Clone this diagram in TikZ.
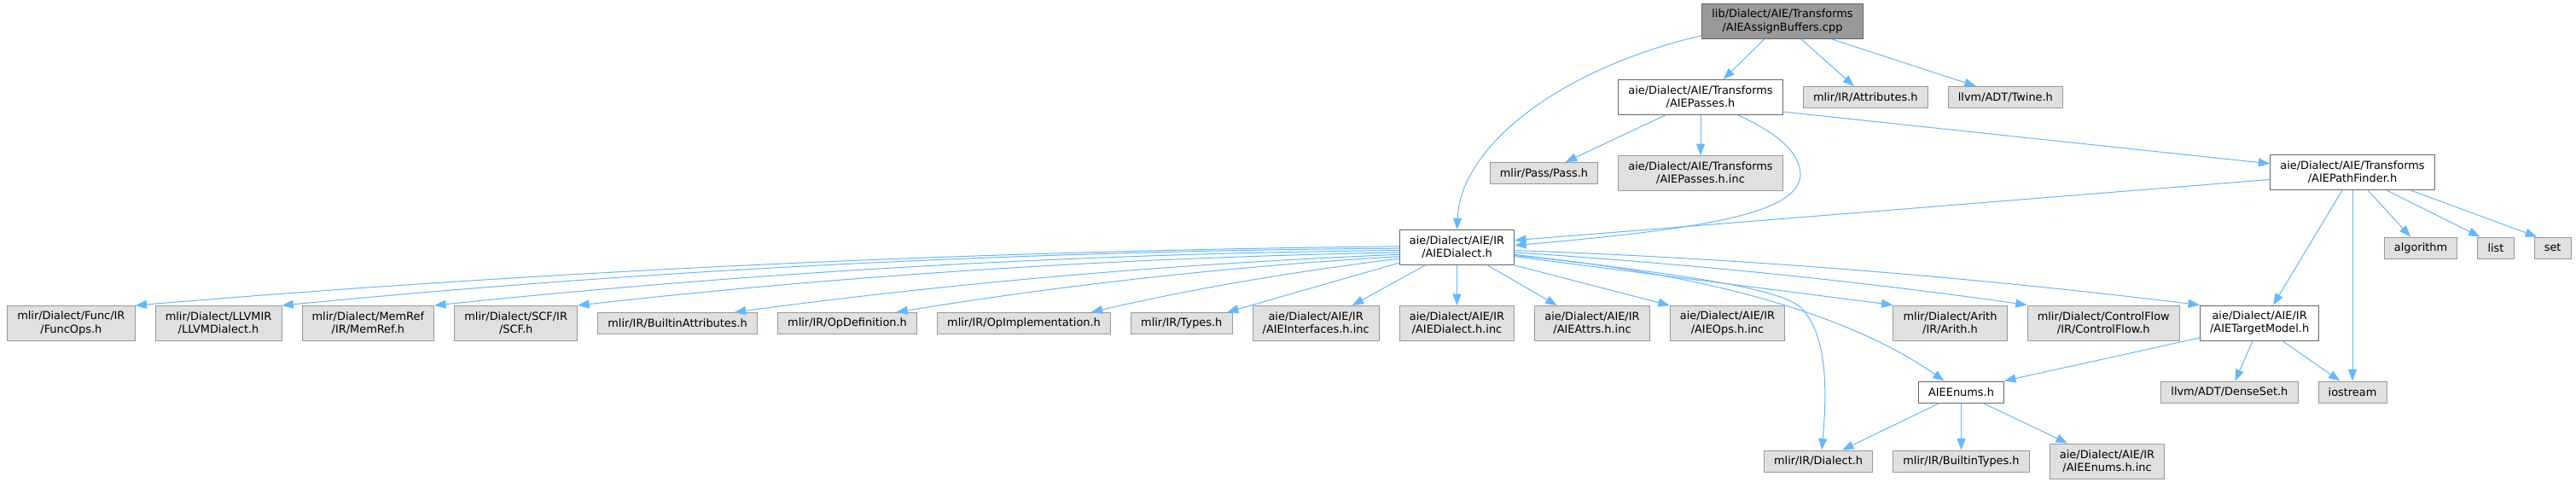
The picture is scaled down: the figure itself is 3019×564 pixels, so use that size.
\documentclass[tikz,border=0pt]{standalone}
\usepackage{fontspec}
\setmainfont{DejaVu Sans}
\usepackage{xcolor}
\usepackage{tikz}
\usetikzlibrary{arrows.meta, positioning}

\definecolor{edgeblue}{HTML}{63B8FF}
\definecolor{leaffill}{HTML}{E0E0E0}
\definecolor{leafdraw}{HTML}{999999}
\definecolor{rootfill}{HTML}{999999}
\definecolor{rootdraw}{HTML}{666666}
\definecolor{docdraw}{HTML}{666666}
\newcommand{\graphfont}{\fontsize{9.68pt}{11.4pt}\selectfont}

\begin{document}
\begin{tikzpicture}[
  x=0.75pt, y=-0.75pt,
  node distance=35.25pt and 17.25pt,
  filebox/.style={rectangle, draw=docdraw, fill=white, line width=0.75pt,
                  inner xsep=8.75pt, inner ysep=1pt,
                  font=\graphfont, align=center},
  leaf/.style={filebox, draw=leafdraw, fill=leaffill},
  rootbox/.style={filebox, draw=rootdraw, fill=rootfill},
  oneline/.style={minimum height=18.75pt},
  twoline/.style={minimum height=30.75pt},
  arr/.style={-{Triangle[length=10pt,width=7.5pt]}, edgeblue, line width=0.75pt},
]
\useasboundingbox[fill=white] (0,0) rectangle (3019,564);

\node[rootbox, twoline] (root) at (2089,25) {lib/Dialect/AIE/Transforms\\/AIEAssignBuffers.cpp};
\node[filebox, twoline] (passes) at (1993,114) {aie/Dialect/AIE/Transforms\\/AIEPasses.h};
\node[leaf, oneline, right=of passes] (attrs) {mlir/IR/Attributes.h};
\node[leaf, oneline, right=of attrs] (twine) {llvm/ADT/Twine.h};
\node[leaf, twoline, below=of passes] (passesinc) {aie/Dialect/AIE/Transforms\\/AIEPasses.h.inc};
\node[leaf, oneline, left=of passesinc] (pass) {mlir/Pass/Pass.h};
\node[filebox, twoline] (pathfinder) at (2757,202) {aie/Dialect/AIE/Transforms\\/AIEPathFinder.h};
\node[filebox, twoline] (dialect) at (1707.5,290) {aie/Dialect/AIE/IR\\/AIEDialect.h};
\node[leaf, oneline] (algo) at (2837,290.5) {algorithm};
\node[leaf, oneline, right=of algo] (stdlist) {list};
\node[leaf, oneline, right=of stdlist] (stdset) {set};

\node[leaf, twoline, below=of dialect] (dialectinc) {aie/Dialect/AIE/IR\\/AIEDialect.h.inc};
\node[leaf, twoline, left=of dialectinc] (interfacesinc) {aie/Dialect/AIE/IR\\/AIEInterfaces.h.inc};
\node[leaf, oneline, left=of interfacesinc] (types) {mlir/IR/Types.h};
\node[leaf, oneline, left=of types] (opimpl) {mlir/IR/OpImplementation.h};
\node[leaf, oneline, left=of opimpl] (opdef) {mlir/IR/OpDefinition.h};
\node[leaf, oneline, left=of opdef] (builtinattrs) {mlir/IR/BuiltinAttributes.h};
\node[leaf, twoline, left=of builtinattrs] (scf) {mlir/Dialect/SCF/IR\\/SCF.h};
\node[leaf, twoline, left=of scf] (memref) {mlir/Dialect/MemRef\\/IR/MemRef.h};
\node[leaf, twoline, left=of memref] (llvmdialect) {mlir/Dialect/LLVMIR\\/LLVMDialect.h};
\node[leaf, twoline, left=of llvmdialect] (funcops) {mlir/Dialect/Func/IR\\/FuncOps.h};
\node[leaf, twoline, right=of dialectinc] (attrsinc) {aie/Dialect/AIE/IR\\/AIEAttrs.h.inc};
\node[leaf, twoline, right=of attrsinc] (opsinc) {aie/Dialect/AIE/IR\\/AIEOps.h.inc};
\node[leaf, twoline] (arith) at (2285.5,378.5) {mlir/Dialect/Arith\\/IR/Arith.h};
\node[leaf, twoline, right=of arith] (controlflow) {mlir/Dialect/ControlFlow\\/IR/ControlFlow.h};
\node[filebox, twoline, right=of controlflow] (targetmodel) {aie/Dialect/AIE/IR\\/AIETargetModel.h};

\node[filebox, oneline] (enums) at (2298.5,459.5) {AIEEnums.h};
\node[leaf, oneline] (iostream) at (2757,459.5) {iostream};
\node[leaf, oneline, left=of iostream] (denseset) {llvm/ADT/DenseSet.h};
\node[leaf, oneline, below=41.25pt of enums] (builtintypes) {mlir/IR/BuiltinTypes.h};
\node[leaf, oneline, left=of builtintypes] (irdialect) {mlir/IR/Dialect.h};
\node[leaf, twoline, right=of builtintypes] (enumsinc) {aie/Dialect/AIE/IR\\/AIEEnums.h.inc};

\draw[arr] (root.190) .. controls (1830,80) and (1712,170) .. (dialect.north);
\draw[arr] ([xshift=-16pt]root.south) -- ([xshift=20pt]passes.north);
\draw[arr] ([xshift=16.5pt]root.south) -- ([xshift=-10pt]attrs.north);
\draw[arr] ([xshift=43.5pt]root.south) -- ([xshift=-26pt]twine.north);

\draw[arr] ([xshift=-31pt]passes.south) -- ([xshift=19pt]pass.north);
\draw[arr] (passes) -- (passesinc);
\draw[arr] ([xshift=33pt]passes.south) .. controls (2085,157) and (2110,180) .. (2110,205)
  .. controls (2108,250) and (2000,268) .. (dialect.2);
\draw[arr] (passes.-10) -- (pathfinder.174);

\draw[arr] (pathfinder.185) -- (dialect.7);
\draw[arr] ([xshift=-9pt]pathfinder.south) -- ([xshift=12pt]targetmodel.north);
\draw[arr] (pathfinder) -- (iostream);
\draw[arr] ([xshift=13.5pt]pathfinder.south) -- ([xshift=-9pt]algo.north);
\draw[arr] ([xshift=30pt]pathfinder.south) -- ([xshift=-14pt]stdlist.north);
\draw[arr] ([xshift=51pt]pathfinder.south) -- ([xshift=-14pt]stdset.north);

\draw[arr] (dialect.179) .. controls (1145,294) and (650,317) .. (funcops.north east);
\draw[arr] (dialect.181) .. controls (1203,294) and (765,316) .. (llvmdialect.north east);
\draw[arr] (dialect.183) .. controls (1263,297) and (886,319) .. (memref.north east);
\draw[arr] (dialect.185) .. controls (1319,302) and (998,322) .. (scf.north east);
\draw[arr] (dialect.187) .. controls (1381,309) and (1121,331) .. ([xshift=50pt]builtinattrs.north);
\draw[arr] (dialect.189) .. controls (1444,312) and (1247,334) .. ([xshift=43pt]opdef.north);
\draw[arr] (dialect.191) .. controls (1519,318) and (1399,338) .. ([xshift=59pt]opimpl.north);
\draw[arr] (dialect.195) -- ([xshift=40pt]types.north);
\draw[arr] ([xshift=-28pt]dialect.south) -- ([xshift=32pt]interfacesinc.north);
\draw[arr] (dialect) -- (dialectinc);
\draw[arr] ([xshift=27pt]dialect.south) -- ([xshift=-31pt]attrsinc.north);
\draw[arr] (dialect.south east) -- (opsinc.north west);
\draw[arr] (dialect.351) -- (arith.north west);
\draw[arr] (dialect.355) .. controls (1975,309) and (2176,329) .. (controlflow.north west);
\draw[arr] (dialect.357) .. controls (2044,303) and (2312,325) .. (targetmodel.north west);
\draw[arr] (dialect.352) .. controls (2000,320) and (2170,370) .. ([xshift=-15pt]enums.north);
\draw[arr] (dialect.353) .. controls (1950,320) and (2080,335) .. (2110,360)
  .. controls (2140,390) and (2142,450) .. ([xshift=3pt]irdialect.north);

\draw[arr] (targetmodel.194) -- (enums.north east);
\draw[arr] ([xshift=-6pt]targetmodel.south) -- ([xshift=5pt]denseset.north);
\draw[arr] ([xshift=20pt]targetmodel.south) -- ([xshift=-11pt]iostream.north);

\draw[arr] ([xshift=-19pt]enums.south) -- ([xshift=21pt]irdialect.north);
\draw[arr] (enums) -- (builtintypes);
\draw[arr] ([xshift=19pt]enums.south) -- ([xshift=-35pt]enumsinc.north);

\end{tikzpicture}
\end{document}
